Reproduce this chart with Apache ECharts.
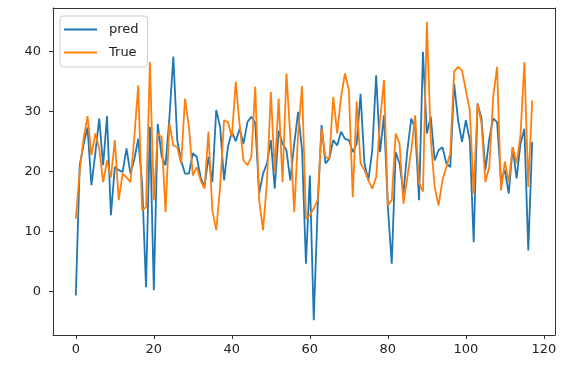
<!DOCTYPE html>
<html>
<head>
<meta charset="utf-8">
<script src="https://cdn.jsdelivr.net/npm/echarts@6.0.0/dist/echarts.min.js"></script>
<style>
  html, body { margin: 0; padding: 0; background: #fff; }
  #chart { width: 569px; height: 367px; }
</style>
</head>
<body>
<div id="chart"></div>
<script>
// values, index 0..117
const pred = [
  -0.7, 21, 24.5, 27.3, 17.7, 23, 28.8, 21, 29.2, 12.7,
  20.7, 20.2, 19.9, 23.8, 19.6, 22, 25.4, 18, 0.7, 27.4,
  0.2, 27.9, 22.5, 21, 29, 39.1, 25.2, 21.8, 19.6, 19.6,
  23, 22.4, 19, 17.4, 22.4, 18.2, 30.2, 27.4, 18.5, 24.1,
  26.6, 25, 27.1, 24.6, 28.2, 29.1, 28, 16.3, 19.6, 21.3,
  25.2, 17.1, 26.8, 24.6, 23.5, 18.5, 24.6, 29.9, 23.5, 4.6,
  19.3, -4.8, 14, 27.7, 21.3, 22.1, 25.2, 24.3, 26.6, 25.4,
  25.2, 23.2, 24.6, 32.9, 21.3, 18.5, 23.5, 36, 23.2, 29.3,
  14, 4.6, 23.2, 21.3, 16.3, 23.5, 28.8, 27.1, 15.2, 39.9,
  26.3, 29.1, 21.8, 23.5, 24, 21.3, 20.7, 34.6, 28.5, 24.9,
  28.5, 25.2, 8.2, 31.3, 28.8, 20.2, 25.4, 28.8, 28.2, 18.5,
  20.2, 16.3, 24, 18.8, 24.6, 27.1, 6.8, 24.9
];
const trueVals = [
  12.1, 20, 25.5, 29.2, 22.7, 26.3, 23.8, 18.2, 21.8, 19,
  25.2, 15.2, 19.6, 19, 18.2, 25.7, 34.3, 13.5, 14, 38.2,
  15.2, 26.3, 25.7, 13.2, 28, 24.3, 24, 21.3, 32.1, 27.4,
  19.3, 20.7, 18.5, 17.1, 26.6, 13.5, 10.2, 17.4, 28.5, 28.2,
  25.7, 34.9, 27.7, 21.8, 21, 22.4, 34.1, 15.2, 10.2, 18.2,
  33.2, 19.9, 32.1, 18.2, 36.3, 25.7, 13.2, 26.3, 34.2, 12.1,
  12.7, 13.8, 15.2, 27.1, 22.4, 22.1, 32.4, 26.3, 32.4, 36.3,
  33.5, 15.7, 31.6, 21.3, 20.2, 18.5, 17.1, 19, 28.5, 35.2,
  14.3, 15.2, 26.3, 24.6, 14.6, 19, 23.5, 29.3, 18, 16.6,
  44.9, 25.2, 17.4, 14.3, 18.5, 20.7, 23, 36.6, 37.4, 36.8,
  33.5, 30.2, 16.3, 31.3, 28, 18.2, 20.7, 32.4, 37.4, 16.8,
  21.6, 18.2, 24, 21.3, 26, 38.2, 17.4, 31.8
];
const xTicks = [0, 20, 40, 60, 80, 100, 120];
const yTicks = [0, 10, 20, 30, 40];

const chart = echarts.init(document.getElementById("chart"));

const toPairs = (arr) => arr.map((v, i) => [i, v]);
const font = "DejaVu Sans";
const spine = { show: true, onZero: false, lineStyle: { color: "#333", width: 1 } };

// bare axis used only to draw the top / right frame lines
const frame = (pos, min, max) => ({
  type: "value",
  position: pos,
  min,
  max,
  axisLine: spine,
  axisTick: { show: false },
  axisLabel: { show: false },
  splitLine: { show: false },
});

const option = {
  animation: false,
  backgroundColor: "#fff",
  grid: {
    left: 53,
    right: 14,
    top: 8,
    bottom: 32,
  },
  legend: {
    orient: "vertical",
    left: 60,
    top: 16,
    data: ["pred", "True"],
    icon: "rect",
    itemWidth: 33,
    itemHeight: 2,
    itemGap: 8,
    padding: [6, 9, 7, 4],
    borderColor: "#cccccc",
    borderWidth: 1,
    borderRadius: 3,
    backgroundColor: "#fff",
    textStyle: {
      fontFamily: font,
      fontSize: 13,
      color: "#222",
      lineHeight: 15,
      padding: [0, 0, 0, 7],
    },
  },
  xAxis: [
    {
      type: "value",
      position: "bottom",
      min: -5.85,
      max: 122.85,
      splitLine: { show: false },
      axisLine: spine,
      axisTick: {
        show: true,
        inside: false,
        length: 4,
        customValues: xTicks,
        lineStyle: { color: "#333" },
      },
      axisLabel: {
        customValues: xTicks,
        fontFamily: font,
        fontSize: 13,
        color: "#222",
        margin: 8,
      },
    },
    frame("top", -5.85, 122.85),
  ],
  yAxis: [
    {
      type: "value",
      position: "left",
      min: -7.27,
      max: 47.2,
      splitLine: { show: false },
      axisLine: spine,
      axisTick: {
        show: true,
        inside: false,
        length: 4,
        customValues: yTicks,
        lineStyle: { color: "#333" },
      },
      axisLabel: {
        customValues: yTicks,
        fontFamily: font,
        fontSize: 13,
        color: "#222",
        margin: 12,
      },
    },
    frame("right", -7.27, 47.2),
  ],
  series: [
    {
      name: "pred",
      type: "line",
      data: toPairs(pred),
      showSymbol: false,
      color: "#1f77b4",
      lineStyle: { width: 1.8, color: "#1f77b4" },
    },
    {
      name: "True",
      type: "line",
      data: toPairs(trueVals),
      showSymbol: false,
      color: "#ff7f0e",
      lineStyle: { width: 1.8, color: "#ff7f0e" },
    },
  ],
};

chart.setOption(option);
</script>
</body>
</html>
